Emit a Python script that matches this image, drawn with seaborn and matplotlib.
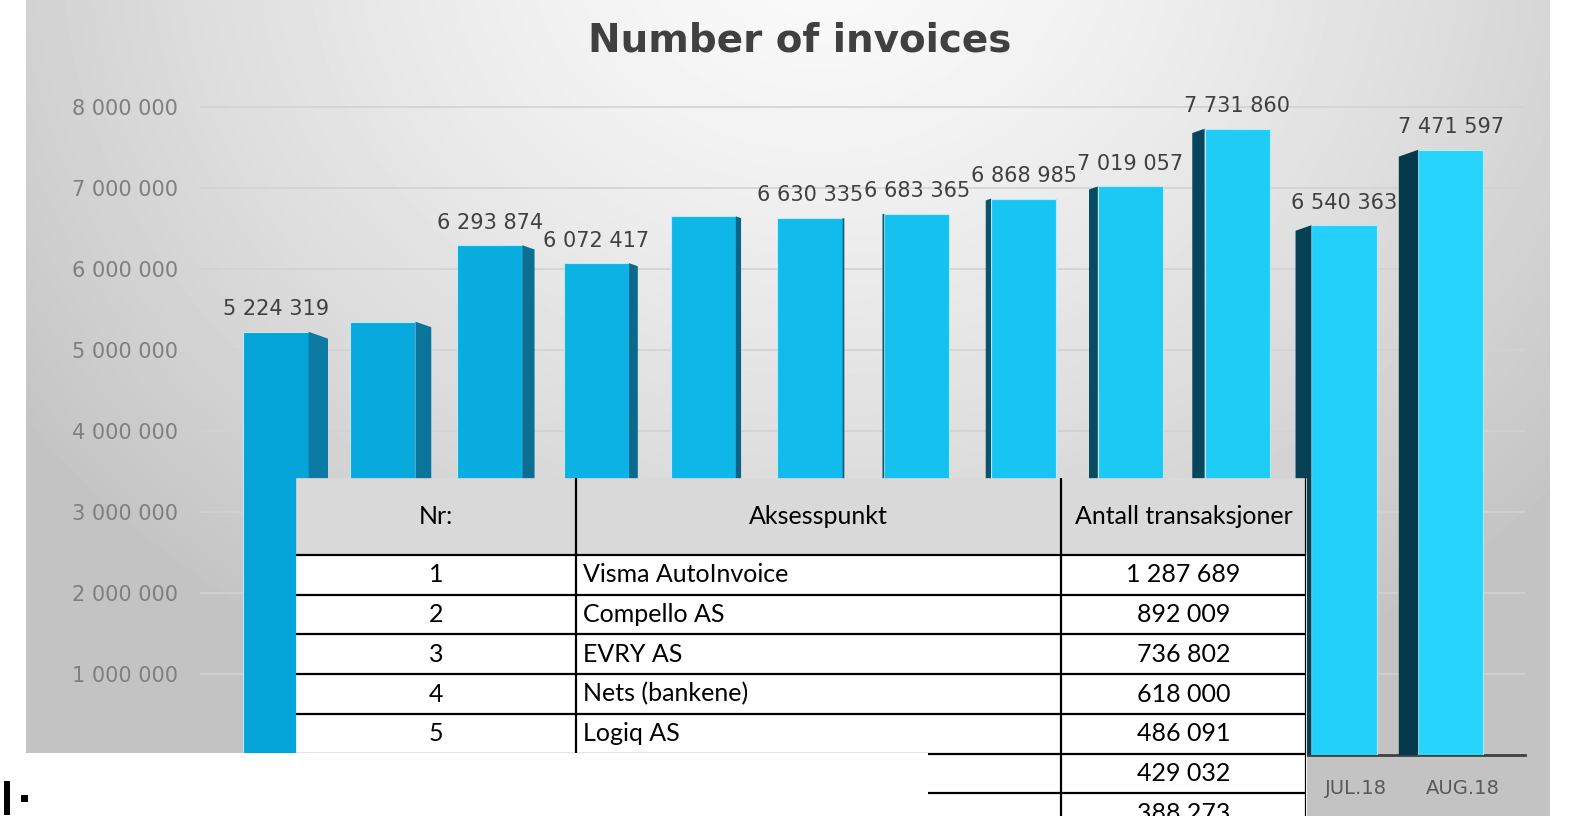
import numpy as np
import matplotlib
matplotlib.use('Agg')
import matplotlib.pyplot as plt
import matplotlib.transforms as mtransforms
from matplotlib.patches import Rectangle, Polygon
import seaborn as sns

months = ['SEP.17', 'OKT.17', 'NOV.17', 'DES.17', 'JAN.18', 'FEB.18',
          'MAR.18', 'APR.18', 'MAI.18', 'JUN.18', 'JUL.18', 'AUG.18']
invoices = [5224319, 5350000, 6293874, 6072417, 6650000, 6630335,
            6683365, 6868985, 7019057, 7731860, 6540363, 7471597]
labelled = [True, False, True, True, False, True,
            True, True, True, True, True, True]

table_nr = ['1', '2', '3', '4', '5', '6', '7']
table_name = ['Visma AutoInvoice', 'Compello AS', 'EVRY AS', 'Nets (bankene)', 'Logiq AS', '', '']
table_count = ['1 287 689', '892 009', '736 802', '618 000', '486 091', '429 032', '388 273']
table_head = ['Nr:', 'Aksesspunkt', 'Antall transaksjoner']

W, H = 1572, 816


def box(x0, y0, x1, y1):
    # pixel box (top-left origin) -> figure fraction rect
    return [x0 / W, 1 - y1 / H, (x1 - x0) / W, (y1 - y0) / H]


def fmt(v):
    return f"{v:,.0f}".replace(',', ' ')


sns.set_style('white')
plt.rcParams['font.family'] = ['DejaVu Sans']

fig = plt.figure(figsize=(W / 100, H / 100), dpi=100)
fig.patch.set_facecolor('white')

# grey gradient backdrop of the chart
bg = fig.add_axes(box(26, 0, 1550, 816), zorder=-1)
yy, xx = np.mgrid[0:816, 26:1550]
d = np.sqrt(((xx - 820) / 900.0) ** 2 + ((yy + 60) / 760.0) ** 2)
shade = np.clip(250 - 48 * d ** 1.4, 196, 250)
bg.imshow(shade, cmap='gray', vmin=0, vmax=255, aspect='auto')
bg.axis('off')

# bar chart
ax = fig.add_axes(box(200, 58, 1525, 755))
ax.set_facecolor('none')
front = sns.blend_palette(['#04a3d8', '#12bfee', '#27d4fb'], len(months))
sns.barplot(x=months, y=invoices, hue=months, palette=front, legend=False,
            width=0.61, saturation=1, ax=ax, zorder=3,
            edgecolor='#b8ecfb', linewidth=0.8)
ax.set_xlim(-0.712, 11.695)
ax.set_ylim(0, (755 - 58) / 81 * 1e6)

side = sns.blend_palette(['#0a7aa3', '#0b5c78', '#053a4d'], len(months))
bars = sorted(ax.patches, key=lambda p: p.get_x())
px_y = 1e6 / 81
for i, p in enumerate(bars):
    x0, w, h = p.get_x(), p.get_width(), p.get_height()
    dx = 0.033 * (5.5 - i)
    dy = abs(dx) * 106.8 * 0.35 * px_y
    if dx > 0:
        pts = [(x0 + w, h), (x0 + w + dx, h - dy), (x0 + w + dx, 0), (x0 + w, 0)]
    else:
        pts = [(x0, h), (x0 + dx, h - dy), (x0 + dx, 0), (x0, 0)]
    ax.add_patch(Polygon(pts, closed=True, facecolor=side[i], edgecolor='none', zorder=3))
    if labelled[i]:
        ax.annotate(fmt(invoices[i]), (x0 + w / 2, h), xytext=(0, 9),
                    textcoords='offset points', ha='center', va='bottom',
                    fontsize=15, color='#404040', zorder=4)

ax.set_yticks(range(1000000, 8000001, 1000000))
ax.set_yticklabels([fmt(v) for v in range(1000000, 8000001, 1000000)])
ax.tick_params(axis='y', length=0, pad=16, labelsize=15, labelcolor='#7f7f7f')
ax.tick_params(axis='x', which='major', length=0, pad=17, labelsize=14, labelcolor='#595959')
ax.set_xticks(np.arange(len(months)) + 0.5, minor=True)
ax.tick_params(axis='x', which='minor', length=5, width=2, color='#404040')
# perspective: category labels sit a little right of the bar fronts
shift = mtransforms.ScaledTranslation(12 / 100, 0, fig.dpi_scale_trans)
for lab in ax.get_xticklabels():
    lab.set_transform(lab.get_transform() + shift)
ax.yaxis.grid(True, color='#d2d2d2', lw=1.2)
ax.set_axisbelow(True)
for s in ['top', 'right', 'left']:
    ax.spines[s].set_visible(False)
ax.spines['bottom'].set_color('#404040')
ax.spines['bottom'].set_linewidth(2)
ax.set_xlabel('')
ax.set_ylabel('')

fig.text(800 / W, 1 - 40 / H, 'Number of invoices', ha='center', va='center',
         fontsize=28, fontweight='bold', color='#404040')

# table pasted over the chart
tax = fig.add_axes(box(296, 478, 1306, 833), zorder=5)
tax.set_xlim(0, 1)
tax.set_ylim(0, 1)
tax.axis('off')
rows = [[n, a, c] for n, a, c in zip(table_nr, table_name, table_count)]
col_w = [280, 485, 245]
tbl = tax.table(cellText=rows, colLabels=table_head, bbox=[0, 0, 1, 1],
                colWidths=col_w, cellLoc='center')
tbl.auto_set_font_size(False)
head_h = 77 / 355
row_h = (1 - head_h) / len(rows)
for (r, c), cell in tbl.get_celld().items():
    fc = '#d9d9d9' if r == 0 else 'white'
    cell.set_facecolor(fc)
    cell.set_edgecolor(fc)
    cell.set_linewidth(0.5)
    cell.set_height(head_h if r == 0 else row_h)
    cell.get_text().set_fontsize(18)
    cell.get_text().set_fontfamily(['Lato', 'DejaVu Sans'])
    cell.get_text().set_color('black')
    if r > 0 and c == 1:
        cell.PAD = 0.014
        cell.get_text().set_ha('left')
        cell._loc = 'left'

# table rules: under each row and right of each column
col_edges = np.cumsum(col_w) / sum(col_w)
row_edges = 1 - head_h - row_h * np.arange(len(rows) + 1)
tax.hlines(row_edges, 0, 1, colors='black', lw=1.6, zorder=10)
tax.vlines(col_edges, 0, 1, colors='black', lw=1.6, zorder=10)

# white patch covering the bottom-left corner, and the stray mark
fig.add_artist(Rectangle((0, 0), 928 / W, (816 - 753) / H, transform=fig.transFigure,
                         facecolor='white', edgecolor='none', zorder=20))
fig.add_artist(Rectangle((4 / W, 1 / H), 6 / W, 34 / H, transform=fig.transFigure,
                         facecolor='black', edgecolor='none', zorder=21))
fig.add_artist(Rectangle((21 / W, 14 / H), 7 / W, 7 / H, transform=fig.transFigure,
                         facecolor='black', edgecolor='none', zorder=21))

fig.savefig('out.png', dpi=100)
